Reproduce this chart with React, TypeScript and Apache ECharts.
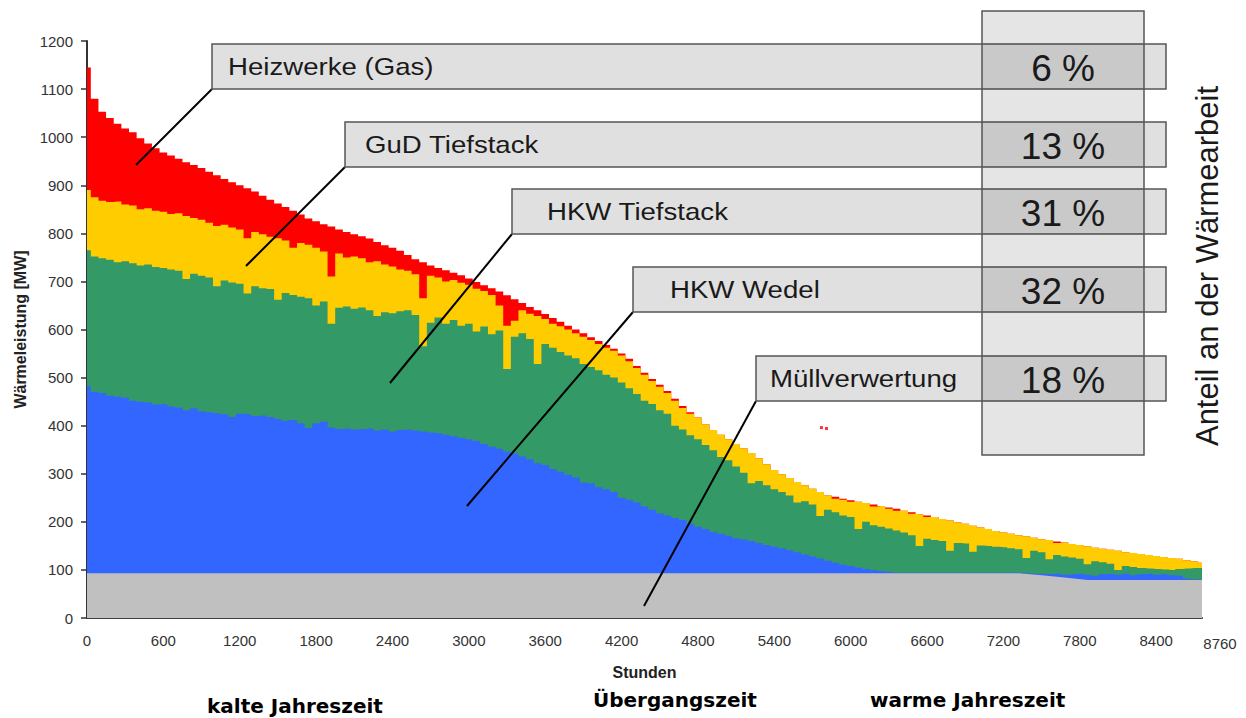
import React, { useEffect, useRef } from 'react';
import * as echarts from 'echarts';

// Hours of the year (load duration curve, sorted), one sample every 60 h
const STEP_HOURS = 60;
const HOURS: number[] = Array.from({ length: 147 }, (_, i) => i * STEP_HOURS);

// Upper edge of each layer in MW (cumulative)
// Total = top of "Heizwerke (Gas)"
const TOTAL_MW = [
  1145, 1080, 1053, 1040, 1028, 1018, 1010, 998, 987, 977,
  968, 962, 955, 948, 942, 936, 928, 921, 913, 906,
  900, 894, 887, 878, 870, 862, 855, 847, 839, 831,
  825, 819, 814, 808, 803, 798, 794, 789, 782, 775,
  770, 764, 755, 746, 740, 733, 728, 723, 718, 713,
  706, 699, 692, 686, 679, 671, 663, 655, 647, 640,
  632, 624, 616, 608, 600, 592, 584, 576, 568, 560,
  550, 539, 524, 510, 497, 485, 472, 456, 441, 428,
  417, 403, 391, 381, 372, 362, 353, 343, 332, 320,
  308, 299, 291, 283, 276, 269, 262, 255, 252, 248,
  245, 242, 239, 236, 233, 230, 227, 223, 220, 216,
  213, 210, 206, 203, 199, 196, 192, 188, 185, 181,
  178, 175, 172, 170, 167, 164, 162, 159, 157, 154,
  152, 149, 146, 144, 142, 140, 137, 135, 133, 131,
  129, 127, 125, 123, 120, 118, 115,
];
// top of "GuD Tiefstack"
const GUD_TOP_MW = [
  890, 875, 868, 865, 866, 860, 858, 850, 852, 847,
  845, 840, 842, 836, 832, 828, 822, 815, 818, 812,
  808, 790, 803, 798, 793, 790, 785, 770, 780, 776,
  770, 762, 710, 758, 750, 752, 748, 740, 742, 735,
  731, 725, 722, 715, 665, 712, 708, 700, 703, 697,
  693, 685, 680, 672, 650, 608, 618, 640, 633, 628,
  622, 612, 607, 600, 592, 585, 578, 570, 562, 556,
  546, 534, 520, 506, 493, 481, 468, 452, 437, 425,
  417, 403, 391, 381, 372, 362, 353, 343, 332, 320,
  308, 299, 291, 283, 276, 269, 262, 255, 248, 246,
  242, 242, 239, 232, 233, 227, 223, 223, 217, 216,
  210, 210, 206, 203, 199, 196, 192, 188, 185, 181,
  178, 175, 172, 170, 167, 164, 162, 156, 157, 154,
  152, 149, 146, 144, 142, 140, 137, 135, 133, 131,
  129, 127, 125, 123, 120, 118, 115,
];
// top of "HKW Tiefstack"
const TIEFSTACK_TOP_MW = [
  765, 752, 748, 745, 740, 742, 738, 733, 735, 730,
  728, 725, 722, 705, 716, 712, 708, 690, 702, 698,
  695, 675, 690, 686, 684, 662, 676, 672, 668, 665,
  650, 658, 612, 645, 648, 643, 646, 640, 628, 636,
  634, 638, 640, 630, 565, 614, 625, 612, 620, 608,
  612, 596, 606, 590, 598, 518, 585, 592, 580, 528,
  570, 562, 553, 546, 540, 528, 522, 515, 506, 500,
  490, 478, 466, 452, 445, 432, 425, 400, 392, 380,
  372, 360, 349, 335, 328, 315, 302, 280, 285, 276,
  268, 262, 255, 240, 243, 236, 212, 225, 220, 213,
  210, 185, 200, 193, 190, 186, 182, 178, 172, 150,
  165, 162, 160, 140, 156, 155, 138, 151, 150, 148,
  147, 145, 143, 125, 140, 137, 122, 131, 128, 126,
  123, 112, 118, 116, 113, 100, 108, 106, 104, 103,
  102, 101, 100, 102, 103, 104, 104,
];
// top of "HKW Wedel"
const WEDEL_TOP_MW = [
  482, 470, 468, 462, 460, 458, 452, 450, 448, 444,
  445, 440, 438, 432, 436, 430, 428, 426, 424, 418,
  425, 424, 420, 421, 418, 414, 410, 412, 405, 395,
  405, 408, 396, 393, 394, 392, 393, 394, 390, 392,
  388, 391, 392, 390, 388, 386, 384, 381, 378, 375,
  372, 368, 362, 356, 352, 346, 342, 336, 330, 322,
  318, 310, 304, 298, 292, 282, 280, 272, 268, 262,
  250, 246, 240, 232, 225, 218, 213, 208, 204, 196,
  190, 185, 179, 175, 171, 166, 163, 160, 156, 152,
  148, 145, 141, 137, 132, 128, 124, 119, 115, 111,
  108, 105, 102, 100, 98, 96, 94, 94, 94, 94,
  94, 94, 94, 94, 94, 94, 94, 94, 94, 94,
  94, 94, 94, 93, 92, 92, 91, 92, 90, 91,
  92, 90, 88, 91, 92, 90, 92, 89, 91, 92,
  90, 91, 89, 88, 82, 80, 80,
];
// "Müllverwertung" (base load)
const MUELL_HOURS = [0, 7320, 7500, 7680, 7860, 8760];
const MUELL_MW = [93, 93, 89, 84, 79, 79];
// isolated peak-boiler hours
const OUTLIER_HOURS = [5770, 5810];
const OUTLIER_MW = [396, 394];

const PLANTS = ['Heizwerke (Gas)', 'GuD Tiefstack', 'HKW Tiefstack', 'HKW Wedel', 'Müllverwertung'];
const SHARES = ['6 %', '13 %', '31 %', '32 %', '18 %'];
const COLORS = ['#ff0000', '#ffcc00', '#339966', '#3366ff', '#c0c0c0'];
const SEASONS = ['kalte Jahreszeit', 'Übergangszeit', 'warme Jahreszeit'];

const FONT = '"Liberation Sans", Arial, sans-serif';

// annotation layout (pixels)
const BOX_LEFT = [212, 345, 512, 633, 756];
const BOX_TOP = [44, 122, 189, 267, 356];
const BOX_H = 45;
const BOX_RIGHT = 1166;
const LABEL_X = [228, 365, 547, 670, 770];
const LEADER_END = [
  [136, 165],
  [246, 266],
  [390, 383],
  [467, 506],
  [644, 606],
];
const SEASON_X = [207, 593, 870];
const SEASON_Y = [706, 700, 700];

function areaSeries(name: string, hours: number[], values: number[], color: string, step: boolean) {
  return {
    type: 'line',
    name,
    data: hours.map((h, i) => [h, values[i]]),
    step: step ? 'middle' : false,
    symbol: 'none',
    showSymbol: false,
    silent: true,
    lineStyle: { width: 0, color },
    itemStyle: { color },
    areaStyle: { color, opacity: 1 },
  };
}

export default function App() {
  const ref = useRef<HTMLDivElement>(null);
  useEffect(() => {
    if (!ref.current) return;
    const chart = echarts.init(ref.current, null, { renderer: 'svg' });

    const graphics: any[] = [];
    PLANTS.forEach((p, i) => {
      graphics.push({
        type: 'line',
        z: 100,
        shape: { x1: BOX_LEFT[i], y1: BOX_TOP[i] + BOX_H, x2: LEADER_END[i][0], y2: LEADER_END[i][1] },
        style: { stroke: '#000', lineWidth: 2 },
      });
      graphics.push({
        type: 'rect',
        z: 101,
        shape: { x: BOX_LEFT[i], y: BOX_TOP[i], width: BOX_RIGHT - BOX_LEFT[i], height: BOX_H },
        style: { fill: '#e0e0e0', stroke: '#555', lineWidth: 1.5 },
      });
      graphics.push({
        type: 'text',
        z: 103,
        x: LABEL_X[i],
        y: BOX_TOP[i] + BOX_H / 2,
        scaleX: 1.15,
        style: {
          text: p,
          font: `24px ${FONT}`,
          fill: '#1a1a1a',
          textAlign: 'left',
          textVerticalAlign: 'middle',
        },
      });
      graphics.push({
        type: 'text',
        z: 103,
        x: 1063,
        y: BOX_TOP[i] + BOX_H / 2 + 2,
        style: {
          text: SHARES[i],
          font: `37px ${FONT}`,
          fill: '#1a1a1a',
          textAlign: 'center',
          textVerticalAlign: 'middle',
        },
      });
    });
    graphics.push({
      type: 'rect',
      z: 102,
      shape: { x: 982, y: 11, width: 162, height: 444 },
      style: { fill: 'rgba(0,0,0,0.1)', stroke: '#555', lineWidth: 1.5 },
    });
    graphics.push({
      type: 'text',
      z: 103,
      x: 1207,
      y: 266,
      rotation: Math.PI / 2,
      style: {
        text: 'Anteil an der Wärmearbeit',
        font: `31px ${FONT}`,
        fill: '#1a1a1a',
        textAlign: 'center',
        textVerticalAlign: 'middle',
      },
    });
    SEASONS.forEach((s, i) => {
      graphics.push({
        type: 'text',
        z: 103,
        x: SEASON_X[i],
        y: SEASON_Y[i],
        style: {
          text: s,
          font: `bold 20px "DejaVu Sans", sans-serif`,
          fill: '#000',
          textAlign: 'left',
          textVerticalAlign: 'middle',
        },
      });
    });
    graphics.push({
      type: 'text',
      z: 103,
      x: 1220,
      y: 643,
      style: {
        text: '8760',
        font: `15px ${FONT}`,
        fill: '#333',
        textAlign: 'center',
        textVerticalAlign: 'middle',
      },
    });

    const option: any = {
      animation: false,
      backgroundColor: '#ffffff',
      grid: { left: 87, right: 44, top: 41, bottom: 100, containLabel: false },
      xAxis: {
        type: 'value',
        min: 0,
        max: 8760,
        interval: 600,
        axisLine: { show: true, lineStyle: { color: '#404040', width: 2 } },
        axisTick: { show: false },
        splitLine: { show: false },
        axisLabel: {
          color: '#333',
          fontSize: 15,
          fontFamily: FONT,
          margin: 15,
          formatter: (v: number) => (v === 8760 ? '' : String(v)),
        },
        name: 'Stunden',
        nameLocation: 'middle',
        nameGap: 46,
        nameTextStyle: { fontWeight: 'bold', fontSize: 16, color: '#222', fontFamily: FONT },
      },
      yAxis: {
        type: 'value',
        min: 0,
        max: 1200,
        interval: 100,
        axisLine: { show: true, lineStyle: { color: '#333', width: 2 } },
        axisTick: { show: true, length: 6, lineStyle: { color: '#333', width: 1.5 } },
        splitLine: { show: false },
        axisLabel: {
          color: '#333',
          fontSize: 15,
          fontFamily: FONT,
          margin: 14,
          formatter: (v: number) => String(v),
        },
        name: 'Wärmeleistung [MW]',
        nameLocation: 'middle',
        nameGap: 56,
        nameRotate: 90,
        nameTextStyle: { fontWeight: 'bold', fontSize: 16, color: '#222', fontFamily: FONT },
      },
      series: [
        areaSeries(PLANTS[0], HOURS, TOTAL_MW, COLORS[0], true),
        areaSeries(PLANTS[1], HOURS, GUD_TOP_MW, COLORS[1], true),
        areaSeries(PLANTS[2], HOURS, TIEFSTACK_TOP_MW, COLORS[2], true),
        areaSeries(PLANTS[3], HOURS, WEDEL_TOP_MW, COLORS[3], true),
        areaSeries(PLANTS[4], MUELL_HOURS, MUELL_MW, COLORS[4], false),
        {
          type: 'scatter',
          silent: true,
          symbol: 'rect',
          symbolSize: 3,
          itemStyle: { color: COLORS[0] },
          data: OUTLIER_HOURS.map((h, i) => [h, OUTLIER_MW[i]]),
        },
      ],
      graphic: { elements: graphics },
    };
    chart.setOption(option);
    return () => chart.dispose();
  }, []);
  return (
    <div
      ref={ref}
      style={{ position: 'fixed', left: 0, top: 0, width: 1246, height: 718, background: '#fff' }}
    />
  );
}
